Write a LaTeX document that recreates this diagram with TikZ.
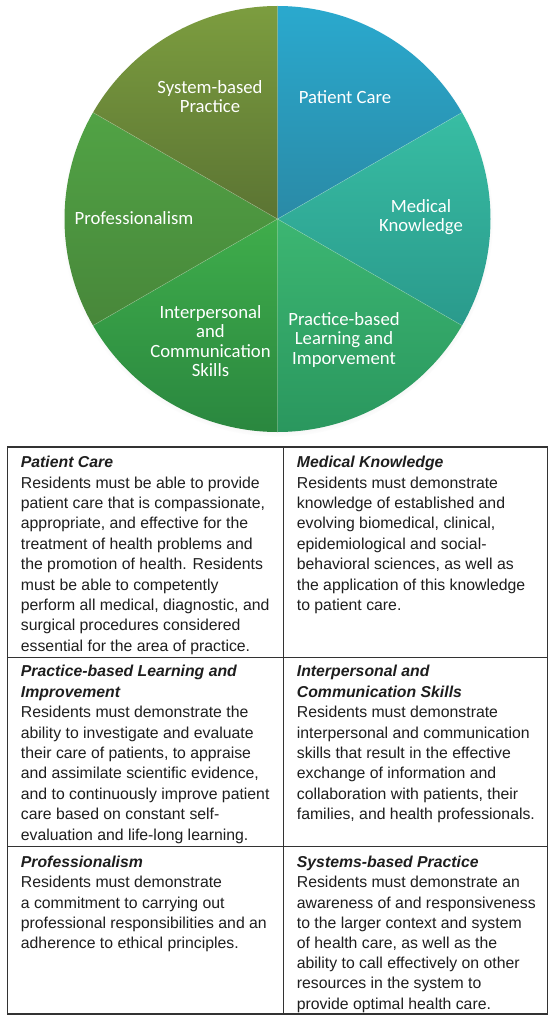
\documentclass[tikz,border=0pt]{standalone}
\usepackage{fontspec}
\setmainfont{Liberation Sans}
\newfontfamily\lblfont{Carlito}
\usetikzlibrary{shadows}
\definecolor{pcTop}{HTML}{2AA9CE}
\definecolor{pcBot}{HTML}{2A8AA6}
\definecolor{mkTop}{HTML}{38BDA3}
\definecolor{mkBot}{HTML}{2A9A8C}
\definecolor{pbTop}{HTML}{3CB672}
\definecolor{pbBot}{HTML}{2A975E}
\definecolor{icTop}{HTML}{3FAD4B}
\definecolor{icBot}{HTML}{2A873F}
\definecolor{prTop}{HTML}{51A345}
\definecolor{prBot}{HTML}{48873A}
\definecolor{sbTop}{HTML}{7C9D3F}
\definecolor{sbBot}{HTML}{5B7433}
\definecolor{txt}{HTML}{1E1E1E}
\definecolor{rule}{HTML}{333333}
\begin{document}
\begin{tikzpicture}[x=1pt,y=-1pt,
  lbl/.style={text=white,align=center,inner sep=0pt,
    font=\lblfont\fontsize{18.7}{19.6}\selectfont},
  cell/.style={anchor=north west,align=left,inner sep=0pt,text=txt,
    font=\fontsize{15.8}{20.4}\selectfont},
  tline/.style={draw=rule,line width=1.3pt},
  sep/.style={draw=white,draw opacity=0.25,line width=0.6pt}]
\useasboundingbox (0,0) rectangle (555,1025);
\fill[white] (0,0) rectangle (555,1025);
% pie
\begin{scope}[shift={(277.5,219)},x=1pt,y=1pt]
  \fill[white,circular drop shadow={shadow scale=1.012,shadow xshift=0pt,shadow yshift=-2pt,opacity=0.35}] (0,0) circle (213);
  \shade[top color=pcTop,bottom color=pcBot] (0,0) -- (90:213) arc[start angle=90,end angle=30,radius=213] -- cycle;
  \shade[top color=mkTop,bottom color=mkBot] (0,0) -- (30:213) arc[start angle=30,end angle=-30,radius=213] -- cycle;
  \shade[top color=pbTop,bottom color=pbBot] (0,0) -- (-30:213) arc[start angle=-30,end angle=-90,radius=213] -- cycle;
  \shade[top color=icTop,bottom color=icBot] (0,0) -- (-90:213) arc[start angle=-90,end angle=-150,radius=213] -- cycle;
  \shade[top color=prTop,bottom color=prBot] (0,0) -- (-150:213) arc[start angle=-150,end angle=-210,radius=213] -- cycle;
  \shade[top color=sbTop,bottom color=sbBot] (0,0) -- (150:213) arc[start angle=150,end angle=90,radius=213] -- cycle;
  \foreach \a in {90,30,-30,-90,-150,150} \draw[sep] (0,0) -- (\a:213);
\end{scope}
\node[lbl] (lsb) at (210,96.7) {System-based\\Practice};
\node[lbl] (lpc) at (345,96.7) {Patient Care};
\node[lbl] (lmk) at (421,217) {Medical\\Knowledge};
\node[lbl] (lpr) at (134,218) {Professionalism};
\node[lbl] (lic) at (210.5,341) {Interpersonal\\and\\Communication\\Skills};
\node[lbl] (lpb) at (344,340) {Practice-based\\Learning and\\Imporvement};
% table
\draw[tline] (7.3,447) rectangle (547.5,1014);
\draw[tline] (283.3,447) -- (283.3,1014);
\draw[tline] (7.3,657.7) -- (547.5,657.7);
\draw[tline] (7.3,846.5) -- (547.5,846.5);
\node[cell] (c1) at (20.7,456) {\textbf{\textit{Patient Care}}\\
Residents must be able to provide\\
patient care that is compassionate,\\
appropriate, and effective for the\\
treatment of health problems and\\
the promotion of health. Residents\\
must be able to competently\\
perform all medical, diagnostic, and\\
surgical procedures considered\\
essential for the area of practice.};
\node[cell] (c2) at (296.7,456) {\textbf{\textit{Medical Knowledge}}\\
Residents must demonstrate\\
knowledge of established and\\
evolving biomedical, clinical,\\
epidemiological and social-\\
behavioral sciences, as well as\\
the application of this knowledge\\
to patient care.};
\node[cell] (c3) at (20.7,665.3) {\textbf{\textit{Practice-based Learning and}}\\
\textbf{\textit{Improvement}}\\
Residents must demonstrate the\\
ability to investigate and evaluate\\
their care of patients, to appraise\\
and assimilate scientific evidence,\\
and to continuously improve patient\\
care based on constant self-\\
evaluation and life-long learning.};
\node[cell] (c4) at (296.7,665.3) {\textbf{\textit{Interpersonal and}}\\
\textbf{\textit{Communication Skills}}\\
Residents must demonstrate\\
interpersonal and communication\\
skills that result in the effective\\
exchange of information and\\
collaboration with patients, their\\
families, and health professionals.};
\node[cell,font=\fontsize{15.8}{20.2}\selectfont] (c5) at (20.7,856) {\textbf{\textit{Professionalism}}\\
Residents must demonstrate\\
a commitment to carrying out\\
professional responsibilities and an\\
adherence to ethical principles.};
\node[cell,font=\fontsize{15.8}{20.2}\selectfont] (c6) at (296.7,856) {\textbf{\textit{Systems-based Practice}}\\
Residents must demonstrate an\\
awareness of and responsiveness\\
to the larger context and system\\
of health care, as well as the\\
ability to call effectively on other\\
resources in the system to\\
provide optimal health care.};
\end{tikzpicture}
\end{document}
